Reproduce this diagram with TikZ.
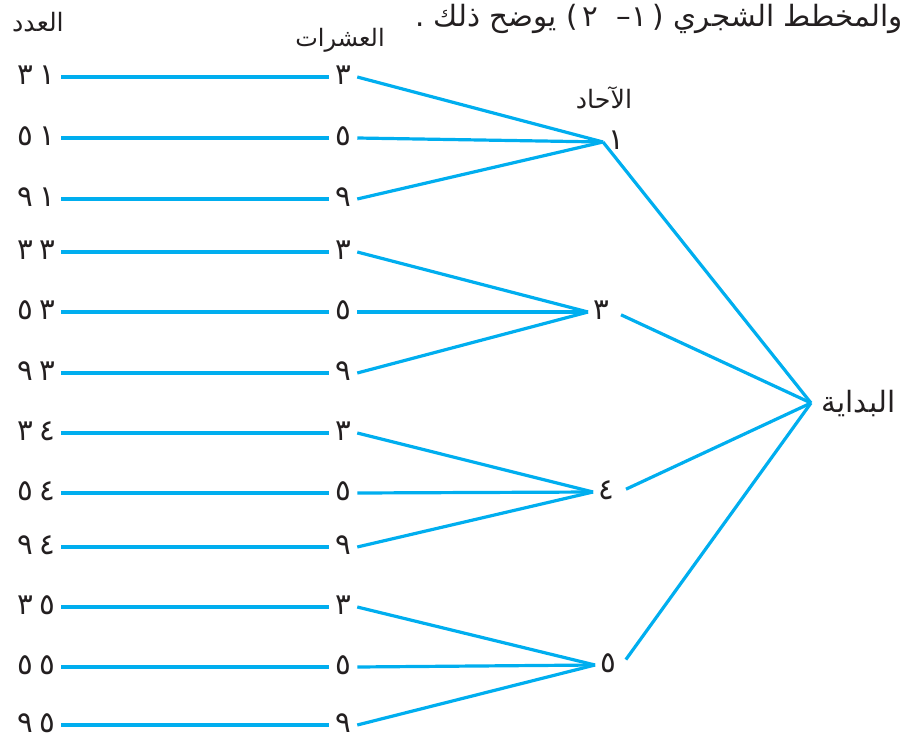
\documentclass[tikz,border=0pt]{standalone}
\usepackage{fontspec}
\newfontfamily\arabicfont[Script=Arabic]{DejaVu Sans}
\newfontfamily\latinfont{DejaVu Sans}
\TeXXeTstate=1
\definecolor{lineblue}{RGB}{0,174,239}
\definecolor{ink}{RGB}{35,31,32}
\begin{document}
\begin{tikzpicture}[x=0.75pt,y=-0.75pt,
  conn/.style={draw=lineblue,line width=2.4pt},
  dig/.style={font=\arabicfont\fontsize{22}{22}\selectfont, text=ink, text height=11pt, text depth=0pt, inner ysep=0pt},
  numnode/.style={dig, anchor=east, inner xsep=4pt},
  tensnode/.style={dig, inner xsep=0pt, minimum width=21pt},
  onesnode/.style={dig, anchor=west, inner xsep=4pt},
  lbl/.style={font=\arabicfont\fontsize{19}{19}\selectfont, text=ink, inner sep=0pt},
  titlestyle/.style={font=\arabicfont\fontsize{22}{22}\selectfont, text=ink, inner sep=0pt},
]
\useasboundingbox (0,0) rectangle (911,739);
% title and headers
\node[titlestyle, anchor=east] (title) at (903,19) {{\beginR يوضح ذلك .\endR}\ {\latinfont(}\,٢\ \ {\latinfont–}١\,{\latinfont)}\ {\beginR والمخطط الشجري\endR}};
\node[lbl] (hnum) at (38,22) {\beginR العدد\endR};
\node[lbl, font=\arabicfont\fontsize{18}{18}\selectfont] (hten) at (340,40) {\beginR العشرات\endR};
\node[lbl] (hone) at (604,98) {\beginR الآحاد\endR};
\node[lbl, font=\arabicfont\fontsize{22}{22}\selectfont, anchor=west, inner xsep=8pt] (start) at (811,403) {\beginR البداية\endR};
% ones
\node[onesnode] (o1) at (603,142) {١};
\node[onesnode] (o2) at (588,312) {٣};
\node[onesnode] (o3) at (593,492) {٤};
\node[onesnode] (o4) at (595,665) {٥};
% rows
\foreach \i/\y/\ta/\ua/\one in {1/77/٣/١/1, 2/138/٥/١/1, 3/199/٩/١/1,
  4/252/٣/٣/2, 5/312/٥/٣/2, 6/373/٩/٣/2,
  7/433/٣/٤/3, 8/493/٥/٤/3, 9/547/٩/٤/3,
  10/607/٣/٥/4, 11/667/٥/٥/4, 12/725/٩/٥/4}{
  \node[numnode] (n\i) at (61,\y) {\ta\hspace{5pt}\ua};
  \node[tensnode] (t\i) at (343,\y) {\ta};
  \draw[conn] (n\i.east) -- (t\i.west);
  \draw[conn] (t\i.east) -- (o\one.west);
}
% ones to start
\draw[conn] (o1.west) -- (start.west);
\draw[conn, shorten <=5pt] (o2.east) -- (start.west);
\draw[conn, shorten <=5pt] (o3.east) -- (start.west);
\draw[conn, shorten <=5pt] (o4.east) -- (start.west);
\end{tikzpicture}
\end{document}
